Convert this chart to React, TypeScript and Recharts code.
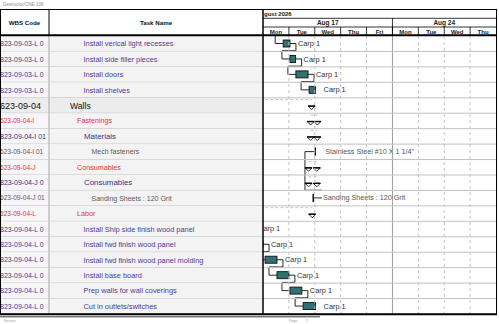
import React from 'react';
import { ComposedChart, Bar, XAxis, YAxis, ReferenceLine } from 'recharts';

// page / plot geometry
const W = 499;
const H = 324;
const PLOT_LEFT = 263;
const PLOT_RIGHT = 496;
const PLOT_TOP = 36;
const PLOT_BOTTOM = 314;
const WBS_COL = 49;

// timeline
const dayNames = ['Mon', 'Tue', 'Wed', 'Thu', 'Fri', 'Mon', 'Tue', 'Wed', 'Thu'];
const weekStarts = [0, 5];
const weekSpans = [5, 4];
const weekLabels = ['Aug 17', 'Aug 24'];
const monthLabel = 'gust 2026';
const columnHeaders = ['WBS Code', 'Task Name'];

const DAY_W = (PLOT_RIGHT - PLOT_LEFT) / dayNames.length;

// table columns
const wbsCodes = [
  '823-09-03-L 0', '823-09-03-L 0', '823-09-03-L 0', '823-09-03-L 0',
  '623-09-04', '623-09-04-I', '823-09-04-I 01', '623-09-04-I 01',
  '623-09-04-J', '823-09-04-J 0', '623-09-04-J 01', '623-09-04-L',
  '823-09-04-L 0', '823-09-04-L 0', '823-09-04-L 0', '823-09-04-L 0', '823-09-04-L 0', '823-09-04-L 0',
];
const taskNames = [
  'Install verical light recesses', 'Install side filler pieces', 'Install doors', 'Install shelves',
  'Walls', 'Fastenings', 'Materials', 'Mech fasteners', 'Consumables', 'Consumables',
  'Sanding Sheets : 120 Grit', 'Labor',
  'Install Ship side finish wood panel', 'Install fwd finish wood panel',
  'Install fwd finish wood panel molding', 'Install base board',
  'Prep walls for wall coverings', 'Cut in outlets/switches',
];
const rowLevels = [
  'task', 'task', 'task', 'task', 'phase', 'group', 'sub', 'item', 'group', 'sub', 'item', 'group',
  'task', 'task', 'task', 'task', 'task', 'task',
];

// gantt values (days from Mon Aug 17)
const barKinds = [
  'task', 'task', 'task', 'task', 'summary', 'summary', 'summary', 'material',
  'summary', 'summary', 'material', 'summary',
  'task', 'task', 'task', 'task', 'task', 'task',
];
const startDays = [0.78, 1.04, 1.27, 1.78, -3, 1.84, 1.84, 1.62, 1.76, 1.76, 1.94, -3, -1.0, -0.6, 0.08, 0.54, 1.04, 1.55];
const finishDays = [1.04, 1.26, 1.74, 2.03, 1.88, 2.1, 2.1, 2.02, 2.08, 2.08, 2.28, 1.9, -0.5, 0.0, 0.54, 1.0, 1.5, 2.03];
const barLabels = [
  'Carp 1', 'Carp 1', 'Carp 1', 'Carp 1', '', '', '', 'Stainless Steel #10 X 1 1/4"',
  '', '', 'Sanding Sheets : 120 Grit', '',
  'Carp 1', 'Carp 1', 'Carp 1', 'Carp 1', 'Carp 1', 'Carp 1',
];
const linkIn = [true, true, true, true, false, false, false, false, false, false, false, false, true, true, true, true, true, true];
const linkOut = [true, true, true, false, false, false, false, false, false, false, false, false, true, true, true, true, true, false];
const tickSides = ['', '', '', '', '', '', '', 'end', '', '', 'start', '', '', '', '', '', '', ''];
const joinDay = [null, null, null, null, null, null, null, 2.28, null, null, null, null, null, null, null, null, null, null];
const joinRows = [0, 0, 0, 0, 0, 0, 0, 2.5, 0, 0, 0, 0, 0, 0, 0, 0, 0, 0];

const ROW_H = (PLOT_BOTTOM - PLOT_TOP) / taskNames.length;

const levelStyle: Record<string, any> = {
  task: { color: '#4b3c98', size: 7.4, indent: 83.5, wbsSize: 7 },
  phase: { color: '#111111', size: 8.6, indent: 70, wbsSize: 9 },
  group: { color: '#e8333b', size: 7.2, indent: 77, wbsSize: 6.6 },
  sub: { color: '#3a2f85', size: 7.9, indent: 84, wbsSize: 7 },
  item: { color: '#5a5a5a', size: 7, indent: 91.5, wbsSize: 6.6 },
};

const rows = taskNames.map((name, i) => ({
  id: `r${i}`,
  wbs: wbsCodes[i],
  name,
  level: rowLevels[i],
  kind: barKinds[i],
  start: startDays[i],
  end: finishDays[i],
  range: [startDays[i], finishDays[i]],
  label: barLabels[i],
  linkIn: linkIn[i],
  nextStart: linkOut[i] ? startDays[i + 1] : null,
  tick: tickSides[i],
  joinDay: joinDay[i],
  joinRows: joinRows[i],
}));

const dayTicks = dayNames.map((_, i) => i + 0.5);
const boundaries = dayNames.slice(1).map((_, i) => i + 1);

const TableTick = (props: any) => {
  const { y, payload } = props;
  const r = rows.find((d) => d.id === payload.value);
  if (!r) return null;
  const st = levelStyle[r.level];
  const top = y - ROW_H / 2;
  return (
    <g>
      <rect x={0} y={top} width={WBS_COL} height={ROW_H} fill={r.level === 'phase' ? '#ececec' : '#f6f5f8'} />
      <rect x={WBS_COL} y={top} width={PLOT_LEFT - WBS_COL} height={ROW_H} fill={r.level === 'phase' ? '#ececec' : '#f3f3f3'} />
      <svg x={0} y={top} width={WBS_COL - 1} height={ROW_H} overflow="hidden">
        <text x={0} y={ROW_H / 2} dy="0.35em" fontSize={st.wbsSize} fill={st.color}>{r.wbs}</text>
      </svg>
      <text x={st.indent} y={y} dy="0.35em" fontSize={st.size} fill={st.color}>{r.name}</text>
      <line x1={0} x2={PLOT_RIGHT} y1={top + ROW_H} y2={top + ROW_H} stroke="#c2c2c2" strokeWidth={1} />
      <line x1={WBS_COL} x2={WBS_COL} y1={top} y2={top + ROW_H} stroke="#a8a8a8" strokeWidth={1} />
    </g>
  );
};

const DayTick = (props: any) => {
  const { x, payload } = props;
  const i = Math.floor(payload.value);
  return (
    <g>
      <text x={x} y={31.5} dy="0.35em" textAnchor="middle" fontSize={6} fontWeight="bold" fill="#222">{dayNames[i]}</text>
      {i < dayNames.length - 1 && (
        <line x1={x + DAY_W / 2} x2={x + DAY_W / 2} y1={27} y2={35} stroke="#000" strokeWidth={0.8} />
      )}
    </g>
  );
};

const WeekTick = (props: any) => {
  const { x, payload } = props;
  const i = weekStarts.indexOf(payload.value);
  if (i < 0) return null;
  return (
    <g>
      <text x={x + (weekSpans[i] * DAY_W) / 2} y={22.8} dy="0.35em" textAnchor="middle" fontSize={6.5} fontWeight="bold" fill="#222">
        {weekLabels[i]}
      </text>
      {payload.value > 0 && <line x1={x} x2={x} y1={18.3} y2={35} stroke="#000" strokeWidth={0.8} />}
    </g>
  );
};

const MonthTick = (props: any) => {
  const { x } = props;
  return (
    <text x={x + 1} y={14} dy="0.35em" fontSize={6} fontWeight="bold" fill="#2a2000">{monthLabel}</text>
  );
};

const GanttShape = (props: any) => {
  const { x, y, width, height, payload } = props;
  const r = payload;
  const pxPerDay = width / (r.end - r.start);
  const toX = (v: number) => x + (v - r.start) * pxPerDay;
  const mid = y + height / 2;
  const x2 = x + width;
  const line = { fill: 'none', stroke: '#111', strokeWidth: 0.9 };

  if (r.kind === 'task') {
    return (
      <g>
        {r.linkIn && <polyline points={`${x - 8},${mid - ROW_H / 2} ${x - 8},${mid} ${x},${mid}`} {...line} />}
        {r.nextStart != null && (
          <polyline
            points={`${x2},${mid} ${x2 + 6},${mid} ${x2 + 6},${mid + ROW_H / 2 - 0.5} ${toX(r.nextStart) - 8},${mid + ROW_H / 2 - 0.5}`}
            {...line}
          />
        )}
        <rect x={x} y={y} width={width} height={height} fill="#33706f" stroke="#111" strokeWidth={0.9} />
        <text x={x2 + 8} y={mid} dy="0.35em" fontSize={7.4} fill="#333">{r.label}</text>
      </g>
    );
  }

  if (r.kind === 'summary') {
    const tri = (cx: number) => `${cx - 3.5},${mid + 0.8} ${cx + 3.5},${mid + 0.8} ${cx},${mid + 4.3}`;
    return (
      <g>
        <line x1={x} x2={x2} y1={mid - ROW_H / 2 + 2} y2={mid - ROW_H / 2 + 2} stroke="#c4c4c4" strokeDasharray="3 2" />
        {[x, x2].map((cx, k) => (
          <g key={k}>
            <polygon points={tri(cx)} fill="#fff" stroke="#000" strokeWidth={0.8} />
            <line x1={cx - 3.5} x2={cx + 3.5} y1={mid + 0.8} y2={mid + 0.8} stroke="#000" strokeWidth={1.4} />
          </g>
        ))}
      </g>
    );
  }

  // material / consumable assignment
  const tickX = r.tick === 'end' ? x2 : x;
  return (
    <g>
      <line x1={x} x2={x2} y1={mid} y2={mid} {...line} />
      <line x1={tickX} x2={tickX} y1={mid - 4} y2={mid + 4} stroke="#000" strokeWidth={1.4} />
      {r.joinDay != null && (
        <polyline
          points={`${x},${mid} ${x},${mid + r.joinRows * ROW_H} ${toX(r.joinDay)},${mid + r.joinRows * ROW_H}`}
          {...line}
        />
      )}
      <text x={x2 + (r.tick === 'end' ? 10 : 1)} y={mid} dy="0.35em" fontSize={7.2} fill="#555">{r.label}</text>
    </g>
  );
};

const Frame = () => (
  <svg width={W} height={H} style={{ position: 'absolute', left: 0, top: 0, pointerEvents: 'none' }}>
    <text x={3} y={5.5} fontSize={4.5} fill="#8a8a8a">Destructor/ONE 108</text>
    <text x={WBS_COL / 2} y={22.8} dy="0.35em" textAnchor="middle" fontSize={6.2} fontWeight="bold" fill="#111">{columnHeaders[0]}</text>
    <text x={(WBS_COL + PLOT_LEFT) / 2} y={22.8} dy="0.35em" textAnchor="middle" fontSize={6.2} fontWeight="bold" fill="#111">{columnHeaders[1]}</text>
    <line x1={0} x2={497} y1={9.5} y2={9.5} stroke="#000" strokeWidth={1} />
    <line x1={PLOT_LEFT} x2={497} y1={18.3} y2={18.3} stroke="#000" strokeWidth={0.8} />
    <line x1={PLOT_LEFT} x2={497} y1={27} y2={27} stroke="#000" strokeWidth={0.8} />
    <line x1={0} x2={497} y1={35.3} y2={35.3} stroke="#000" strokeWidth={2} />
    <line x1={0.5} x2={0.5} y1={9.5} y2={315} stroke="#000" strokeWidth={1} />
    <line x1={WBS_COL} x2={WBS_COL} y1={9.5} y2={35} stroke="#000" strokeWidth={1} />
    <line x1={PLOT_LEFT} x2={PLOT_LEFT} y1={9.5} y2={315} stroke="#000" strokeWidth={1.5} />
    <line x1={PLOT_RIGHT + 0.5} x2={PLOT_RIGHT + 0.5} y1={9.5} y2={315} stroke="#000" strokeWidth={1} />
    <line x1={0} x2={497} y1={314.2} y2={314.2} stroke="#000" strokeWidth={2} />
    <line x1={0} x2={320} y1={316.8} y2={316.8} stroke="#000" strokeWidth={0.8} />
    <text x={4} y={321.5} fontSize={3.5} fill="#9a9a9a">Section</text>
    <text x={289} y={321.5} fontSize={3.5} fill="#9a9a9a">Page</text>
    <text x={306} y={321.5} fontSize={3.5} fill="#9a9a9a">1</text>
  </svg>
);

export default function App() {
  return (
    <div
      style={{
        position: 'absolute',
        left: 0,
        top: 0,
        width: W,
        height: H,
        background: '#fff',
        fontFamily: '"Liberation Sans", Arial, sans-serif',
      }}
    >
      <ComposedChart
        width={W}
        height={H}
        data={rows}
        layout="vertical"
        margin={{ top: 10, right: W - PLOT_RIGHT, bottom: H - PLOT_BOTTOM, left: 0 }}
      >
        <XAxis
          xAxisId="days"
          type="number"
          orientation="top"
          domain={[0, dayNames.length]}
          allowDataOverflow
          ticks={dayTicks}
          tick={<DayTick />}
          tickLine={false}
          axisLine={false}
          height={9}
          interval={0}
        />
        <XAxis
          xAxisId="weeks"
          type="number"
          orientation="top"
          domain={[0, dayNames.length]}
          allowDataOverflow
          ticks={weekStarts}
          tick={<WeekTick />}
          tickLine={false}
          axisLine={false}
          height={9}
          interval={0}
        />
        <XAxis
          xAxisId="month"
          type="number"
          orientation="top"
          domain={[0, dayNames.length]}
          allowDataOverflow
          ticks={[0]}
          tick={<MonthTick />}
          tickLine={false}
          axisLine={false}
          height={8}
          interval={0}
        />
        <YAxis
          type="category"
          dataKey="id"
          width={PLOT_LEFT}
          tick={<TableTick />}
          tickLine={false}
          axisLine={false}
          interval={0}
        />
        {boundaries.map((b) => (
          <ReferenceLine
            key={b}
            xAxisId="days"
            x={b}
            stroke={weekStarts.includes(b) ? '#9a9a9a' : '#c4c4c4'}
            strokeDasharray={weekStarts.includes(b) ? undefined : '3 3'}
          />
        ))}
        <Bar
          xAxisId="days"
          dataKey="range"
          barSize={7}
          shape={<GanttShape />}
          isAnimationActive={false}
        />
      </ComposedChart>
      <Frame />
    </div>
  );
}
